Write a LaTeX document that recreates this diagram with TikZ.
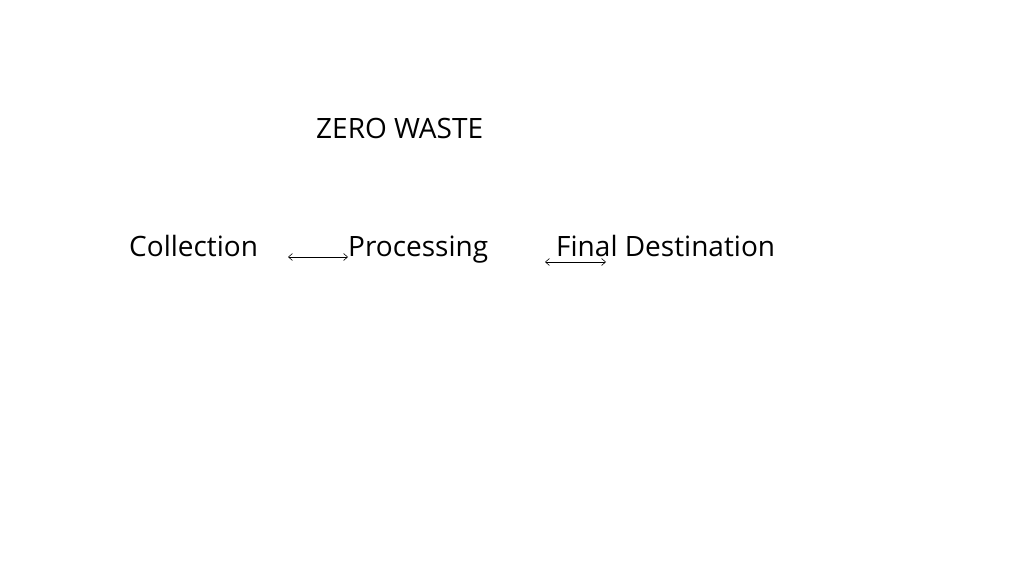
\documentclass[tikz,border=0pt]{standalone}
\usepackage{fontspec}
\setmainfont{Open Sans}[Ligatures={NoCommon}]
\usetikzlibrary{arrows.meta}
\begin{document}
\begin{tikzpicture}[x=1pt,y=1pt,
  lbl/.style={anchor=base west,inner sep=0pt,font=\fontsize{28}{33}\selectfont},
  link/.style={{Straight Barb[length=4pt,width=7pt]}-{Straight Barb[length=4pt,width=7pt]},line width=0.6pt}]
\useasboundingbox[fill=white] (0,0) rectangle (1024,576);
\node[lbl] (title) at (316,437) {ZERO WASTE};
\node[lbl] (coll) at (129,319) {Collection};
\node[lbl] (proc) at (348,319) {Processing};
\node[lbl] (dest) at (556,319) {Final Destination};
\coordinate (a1) at (288,319);
\coordinate (a2) at (348,319);
\coordinate (b1) at (545,314);
\coordinate (b2) at (606,314);
\draw[link] (a1) -- (a2);
\draw[link] (b1) -- (b2);
\end{tikzpicture}
\end{document}
